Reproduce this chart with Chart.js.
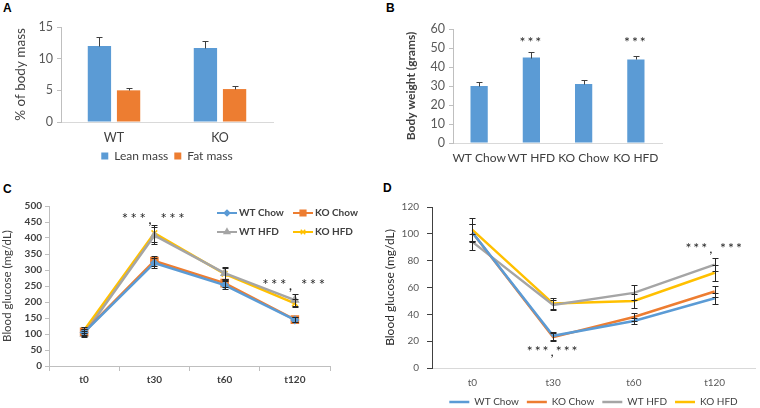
<!DOCTYPE html>
<html>
<head>
<meta charset="utf-8">
<script src="https://cdn.jsdelivr.net/npm/chart.js@4.4.0/dist/chart.umd.min.js"></script>
<style>
  body { margin: 0; width: 760px; height: 408px; background: #fff; position: relative; overflow: hidden; }
  canvas { position: absolute; }
  .letra { position: absolute; font: bold 12px "Liberation Sans", Arial, sans-serif; line-height: 1; color: #000; }
</style>
</head>
<body>
<div class="letra" style="left:3px;top:2px">A</div>
<div class="letra" style="left:386px;top:2px">B</div>
<div class="letra" style="left:3px;top:183px">C</div>
<div class="letra" style="left:383px;top:182px">D</div>
<canvas id="grafico-a" width="290" height="180" style="left:0;top:0"></canvas>
<canvas id="grafico-b" width="300" height="180" style="left:375px;top:0"></canvas>
<canvas id="grafico-c" width="375" height="223" style="left:0;top:185px"></canvas>
<canvas id="grafico-d" width="380" height="234" style="left:380px;top:183px"></canvas>
<script>
// ---- dados ----
// A: composição corporal
const gruposA = ['WT', 'KO'];
const leanMass = [12.0, 11.7];
const leanMassErr = [1.4, 1.1];
const fatMass = [5.0, 5.2];
const fatMassErr = [0.4, 0.5];

// B: peso corporal
const gruposB = ['WT Chow', 'WT HFD', 'KO Chow', 'KO HFD'];
const bodyWeight = [30, 45, 31, 44];
const bodyWeightErr = [2, 3, 2, 2];
const sigB = ['', '***', '', '***'];
const sigBy = [0, 53, 0, 53];

// C: GTT
const tempos = ['t0', 't30', 't60', 't120'];
const gttWtChow = [105, 322, 253, 144];
const gttWtChowErr = [10, 16, 12, 8];
const gttKoChow = [107, 328, 259, 145];
const gttKoChowErr = [10, 17, 12, 8];
const gttWtHfd = [100, 408, 290, 206];
const gttWtHfdErr = [10, 27, 18, 18];
const gttKoHfd = [112, 415, 288, 196];
const gttKoHfdErr = [10, 27, 18, 12];
const sigC = ['', '***, ***', '', '***, ***'];
const sigCy = [0, 460, 0, 252];

// D: ITT
const ittWtChow = [101, 24, 35, 52];
const ittWtChowErr = [6, 3, 2, 4];
const ittKoChow = [101, 23, 38, 57];
const ittKoChowErr = [6, 3, 3, 4];
const ittWtHfd = [94, 47, 56, 77];
const ittWtHfdErr = [6, 4, 5.5, 5];
const ittKoHfd = [103, 48, 50, 71];
const ittKoHfdErr = [9, 4, 5, 6];
const sigD = ['', '***,***', '', '***, ***'];
const sigDy = [0, 12, 0, 89];

const azul = '#5B9BD5', laranja = '#ED7D31', cinza = '#A5A5A5', amarelo = '#FFC000';

Chart.defaults.font.family = 'Lato, "Open Sans", sans-serif';
Chart.defaults.color = '#595959';
Chart.defaults.animation = false;
Chart.defaults.plugins.tooltip.enabled = false;

// barras de erro a partir de dataset.errors
const errorBars = {
  id: 'errorBars',
  afterDatasetsDraw(chart, args, opts) {
    const ctx = chart.ctx;
    const y = chart.scales.y;
    chart.data.datasets.forEach((ds, i) => {
      if (!ds.errors) return;
      const meta = chart.getDatasetMeta(i);
      ctx.save();
      ctx.strokeStyle = opts.color || '#404040';
      ctx.lineWidth = 1;
      meta.data.forEach((el, j) => {
        const v = ds.data[j], e = ds.errors[j];
        const top = Math.round(y.getPixelForValue(v + e)) + 0.5;
        const bot = Math.round(y.getPixelForValue(opts.both ? v - e : v)) + 0.5;
        const x = Math.round(el.x) + 0.5, c = opts.cap || 3;
        ctx.beginPath();
        ctx.moveTo(x, top); ctx.lineTo(x, bot);
        ctx.moveTo(x - c, top); ctx.lineTo(x + c, top);
        if (opts.both) { ctx.moveTo(x - c, bot); ctx.lineTo(x + c, bot); }
        ctx.stroke();
      });
      ctx.restore();
    });
  }
};

// asteriscos de significância
const sigPlugin = {
  id: 'sig',
  afterDatasetsDraw(chart, args, opts) {
    const { ctx, scales: { x, y } } = chart;
    ctx.save();
    ctx.font = opts.font;
    if ('letterSpacing' in ctx) ctx.letterSpacing = opts.spacing || '0px';
    ctx.fillStyle = '#262626';
    ctx.textAlign = 'center';
    ctx.textBaseline = 'middle';
    opts.texts.forEach((t, i) => {
      if (!t) return;
      ctx.fillText(t, x.getPixelForValue(i), y.getPixelForValue(opts.values[i]));
    });
    ctx.restore();
  }
};

// legenda 2x2 dentro da área do gráfico (painel C)
const legendaGrade = {
  id: 'legendaGrade',
  afterDraw(chart, args, opts) {
    const { ctx, chartArea } = chart;
    chart.data.datasets.forEach((ds, i) => {
      const x0 = chartArea.left + opts.x + (i % 2) * opts.colWidth;
      const y0 = chartArea.top + opts.y + Math.floor(i / 2) * opts.rowHeight;
      ctx.save();
      ctx.strokeStyle = ds.borderColor;
      ctx.fillStyle = ds.backgroundColor;
      ctx.lineWidth = 2;
      ctx.beginPath();
      ctx.moveTo(x0, y0); ctx.lineTo(x0 + 20, y0);
      ctx.stroke();
      ctx.lineWidth = 1.5;
      Chart.helpers.drawPoint(ctx, { pointStyle: ds.pointStyle, radius: ds.pointRadius * 0.8, borderWidth: 1.5, rotation: 0 }, x0 + 10, y0);
      ctx.fillStyle = '#404040';
      ctx.font = 'bold 10px Lato, sans-serif';
      ctx.textBaseline = 'middle';
      ctx.fillText(ds.label, x0 + 22, y0);
      ctx.restore();
    });
  }
};

// eixo Y estilo Excel (marcas curtas para fora, sem grade)
function eixoY(min, max, step, titulo, largura, tituloPad, tituloFonte) {
  return {
    min: min, max: max,
    ticks: { stepSize: step, padding: 4, font: { size: 12.5 } },
    grid: { drawOnChartArea: false, tickLength: 4, color: '#bfbfbf' },
    border: { color: '#bfbfbf' },
    title: { display: true, text: titulo, color: '#404040', font: tituloFonte, padding: { top: tituloPad, bottom: 0 } },
    afterFit: s => { s.width = largura; }
  };
}

// ---- A ----
new Chart(document.getElementById('grafico-a'), {
  type: 'bar',
  data: {
    labels: gruposA,
    datasets: [
      { label: 'Lean mass', data: leanMass, errors: leanMassErr, backgroundColor: azul },
      { label: 'Fat mass', data: fatMass, errors: fatMassErr, backgroundColor: laranja }
    ]
  },
  options: {
    responsive: false,
    layout: { padding: { top: 27, right: 17, left: 0, bottom: 8 } },
    datasets: { bar: { categoryPercentage: 0.55, barPercentage: 0.8 } },
    plugins: {
      legend: {
        position: 'bottom', fullSize: false,
        labels: { boxWidth: 7, boxHeight: 7, padding: 6, color: '#404040', font: { size: 12 } }
      },
      errorBars: { cap: 3, color: '#404040' }
    },
    scales: {
      x: {
        grid: { display: false, drawTicks: false },
        border: { color: '#d9d9d9' },
        ticks: { padding: 8, color: '#404040', font: { size: 12.5 } },
        afterFit: s => { s.height = 22; }
      },
      y: eixoY(0, 15, 5, '% of body mass', 61, 13, { size: 13.5 })
    }
  },
  plugins: [errorBars]
});

// ---- B ----
new Chart(document.getElementById('grafico-b'), {
  type: 'bar',
  data: {
    labels: gruposB,
    datasets: [
      { label: 'Body weight', data: bodyWeight, errors: bodyWeightErr, backgroundColor: azul }
    ]
  },
  options: {
    responsive: false,
    layout: { padding: { top: 29, right: 13, left: 0, bottom: 0 } },
    datasets: { bar: { categoryPercentage: 1, barPercentage: 0.33 } },
    plugins: {
      legend: { display: false },
      errorBars: { cap: 3, color: '#404040' },
      sig: { texts: sigB, values: sigBy, font: '14px Lato, sans-serif', spacing: '2px' }
    },
    scales: {
      x: {
        grid: { display: false, drawTicks: false },
        border: { color: '#d9d9d9' },
        ticks: { padding: 8, color: '#404040', font: { size: 12 }, maxRotation: 0, minRotation: 0, autoSkip: false },
        afterFit: s => { s.height = 37; }
      },
      y: eixoY(0, 60, 10, 'Body weight (grams)', 78, 29, { size: 12, weight: 'bold' })
    }
  },
  plugins: [errorBars, sigPlugin]
});

// ---- C ----
new Chart(document.getElementById('grafico-c'), {
  type: 'line',
  data: {
    labels: tempos,
    datasets: [
      { label: 'WT Chow', data: gttWtChow, errors: gttWtChowErr, borderColor: azul, backgroundColor: azul, pointStyle: 'rectRot', pointRadius: 3.5 },
      { label: 'KO Chow', data: gttKoChow, errors: gttKoChowErr, borderColor: laranja, backgroundColor: laranja, pointStyle: 'rect', pointRadius: 5 },
      { label: 'WT HFD', data: gttWtHfd, errors: gttWtHfdErr, borderColor: cinza, backgroundColor: cinza, pointStyle: 'triangle', pointRadius: 4 },
      { label: 'KO HFD', data: gttKoHfd, errors: gttKoHfdErr, borderColor: amarelo, backgroundColor: amarelo, pointStyle: 'crossRot', pointRadius: 4 }
    ]
  },
  options: {
    responsive: false,
    layout: { padding: { top: 21, right: 45, left: 0, bottom: 0 } },
    datasets: { line: { borderWidth: 2.5, pointBorderWidth: 1.5, tension: 0 } },
    plugins: {
      legend: { display: false },
      errorBars: { cap: 3, both: true, color: '#262626' },
      sig: { texts: sigC, values: sigCy, font: '15px Lato, sans-serif', spacing: '2.5px' },
      legendaGrade: { x: 168, y: 7, colWidth: 76, rowHeight: 19 }
    },
    scales: {
      x: {
        offset: true,
        grid: { display: true, offset: true, drawOnChartArea: false, drawTicks: true, tickLength: 5, color: '#bfbfbf' },
        border: { color: '#bfbfbf' },
        ticks: { padding: 3, color: '#404040', font: { size: 10, weight: 'bold' } },
        afterFit: s => { s.height = 42; }
      },
      y: {
        min: 0, max: 500,
        ticks: { stepSize: 50, padding: 3, color: '#404040', font: { size: 10, weight: 'bold' } },
        grid: { drawOnChartArea: false, tickLength: 4, color: '#bfbfbf' },
        border: { color: '#bfbfbf' },
        title: { display: true, text: 'Blood glucose (mg/dL)', color: '#404040', font: { size: 11.5 }, padding: { top: 0, bottom: 0 } },
        afterFit: s => { s.width = 49; }
      }
    }
  },
  plugins: [errorBars, sigPlugin, legendaGrade]
});

// ---- D ----
new Chart(document.getElementById('grafico-d'), {
  type: 'line',
  data: {
    labels: tempos,
    datasets: [
      { label: 'WT Chow', data: ittWtChow, errors: ittWtChowErr, borderColor: azul, backgroundColor: azul },
      { label: 'KO Chow', data: ittKoChow, errors: ittKoChowErr, borderColor: laranja, backgroundColor: laranja },
      { label: 'WT HFD', data: ittWtHfd, errors: ittWtHfdErr, borderColor: cinza, backgroundColor: cinza },
      { label: 'KO HFD', data: ittKoHfd, errors: ittKoHfdErr, borderColor: amarelo, backgroundColor: amarelo }
    ]
  },
  options: {
    responsive: false,
    layout: { padding: { top: 24, right: 5, left: 0, bottom: 0 } },
    datasets: { line: { borderWidth: 2.5, pointRadius: 0, tension: 0 } },
    plugins: {
      legend: {
        position: 'bottom', fullSize: false,
        labels: { usePointStyle: true, pointStyle: 'line', pointStyleWidth: 20, padding: 8, color: '#404040', font: { size: 10 } }
      },
      errorBars: { cap: 3, both: true, color: '#262626' },
      sig: { texts: sigD, values: sigDy, font: '14px Lato, sans-serif', spacing: '2px' }
    },
    scales: {
      x: {
        offset: true,
        grid: { display: false, drawTicks: false },
        border: { color: '#d9d9d9' },
        ticks: { padding: 9, color: '#595959', font: { size: 10 } },
        afterFit: s => { s.height = 21; }
      },
      y: {
        min: 0, max: 120,
        ticks: { stepSize: 20, padding: 8, color: '#595959', font: { size: 10 } },
        grid: { drawOnChartArea: false, tickLength: 5, color: '#404040' },
        border: { color: '#404040' },
        title: { display: true, text: 'Blood glucose (mg/dL)', color: '#262626', font: { size: 12 }, padding: { top: 3, bottom: 0 } },
        afterFit: s => { s.width = 52; }
      }
    }
  },
  plugins: [errorBars, sigPlugin]
});
</script>
</body>
</html>
